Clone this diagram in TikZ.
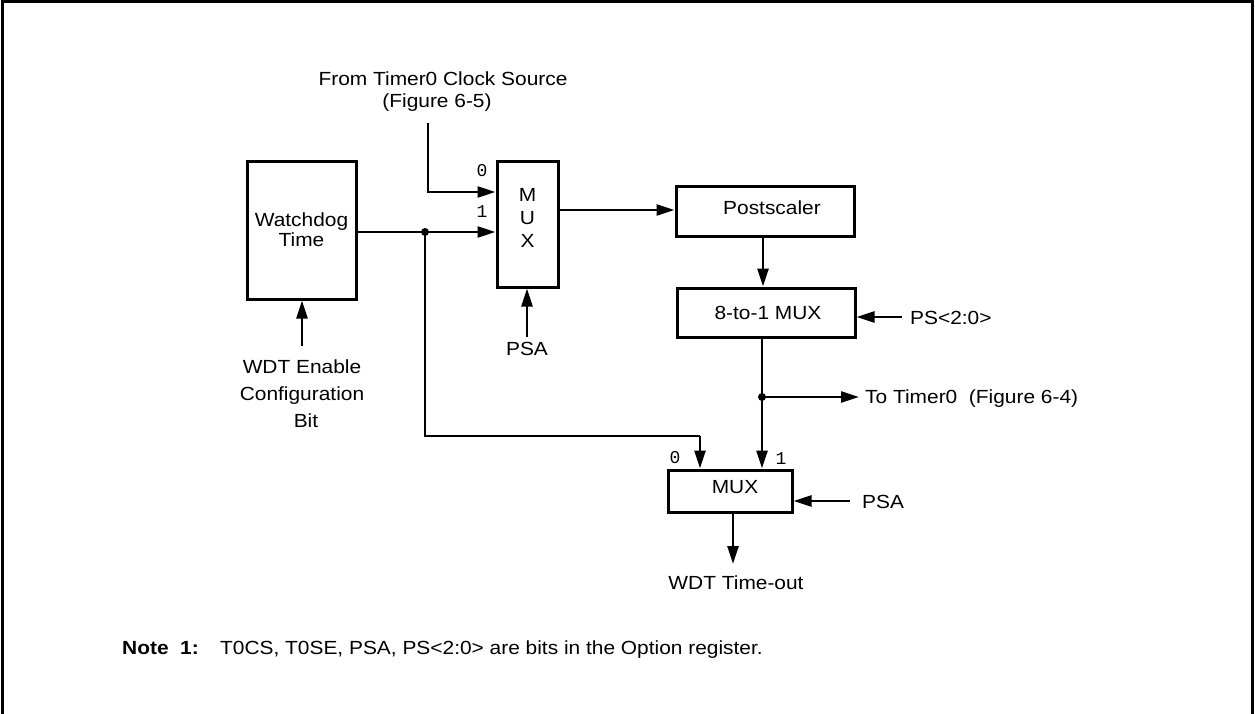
\documentclass[tikz,border=0pt]{standalone}
\usepackage{fontspec}
\setmainfont{Liberation Sans}[FakeStretch=1.1]
\newfontfamily\digitfont{Liberation Mono}
\usetikzlibrary{arrows.meta,calc}
\tikzset{
  blk/.style={draw, line width=3pt, inner sep=0pt},
  lbl/.style={inner sep=0pt, align=center, font=\fontsize{19}{20}\selectfont},
  txt/.style={inner sep=0pt, font=\fontsize{19}{26}\selectfont},
  dig/.style={inner sep=0pt, font=\digitfont\fontsize{18}{18}\selectfont},
  wire/.style={line width=2.7pt},
  arr/.style={wire, -{Triangle[length=18pt,width=11pt]}},
  dotj/.style={fill, circle, inner sep=0pt, minimum size=8pt}
}
\begin{document}
\begin{tikzpicture}[x=1pt,y=-1pt]
\useasboundingbox (0,0) rectangle (1255,714);
% frame
\draw[line width=3pt] (2,714) -- (2,2) -- (1252,2) -- (1252,714);

% blocks
\node[blk, minimum width=109pt, minimum height=137pt,
  label={[lbl, yshift=1pt]center:Watchdog\\Time}] (wdt) at (301.5,230.5) {};
\node[blk, minimum width=61pt, minimum height=125pt,
  label={[lbl, font=\fontsize{19}{23}\selectfont, yshift=6.5pt]center:M\\U\\X}] (mux1) at (527.5,224.5) {};
\node[blk, minimum width=178pt, minimum height=49pt,
  label={[lbl, xshift=7pt, yshift=3.5pt]center:Postscaler}] (post) at (765,211.5) {};
\node[blk, minimum width=178pt, minimum height=49pt,
  label={[lbl, xshift=2pt]center:8-to-1 MUX}] (mux8) at (766,312.5) {};
\node[blk, minimum width=124pt, minimum height=42pt,
  label={[lbl, xshift=5pt, yshift=3.5pt]center:MUX}] (bmux) at (730,491) {};

% text labels
\node[txt, anchor=base] (src) at (443,86) {From Timer0 Clock Source};
\node[txt, anchor=base] (srcfig) at (437,108) {(Figure 6-5)};
\node[txt, anchor=base] (psa1) at (527,355) {PSA};
\node[txt, anchor=base] (en1) at (302,373) {WDT Enable};
\node[txt, anchor=base] (en2) at (302,400) {Configuration};
\node[txt, anchor=base] (en3) at (306,427) {Bit};
\node[txt, anchor=base west] (ps) at (910,324) {PS<2:0>};
\node[txt, anchor=base west] (tot) at (865,403) {To Timer0\ \ (Figure 6-4)};
\node[txt, anchor=base west] (psa2) at (862,508) {PSA};
\node[txt, anchor=base] (tout) at (736,589) {WDT Time-out};
\node[txt, anchor=base west, font=\bfseries\fontsize{19}{22}\selectfont] (note) at (122,654) {Note\ \ 1:};
\node[txt, anchor=base west] (notetxt) at (220,654) {T0CS, T0SE, PSA, PS<2:0> are bits in the Option register.};

% input digits
\node[dig, anchor=base] (d0a) at (482,177) {0};
\node[dig, anchor=base] (d1a) at (482,218) {1};
\node[dig, anchor=base] (d0b) at (675,463) {0};
\node[dig, anchor=base] (d1b) at (781,464) {1};

% coordinates
\coordinate (clk) at (428,123);
\coordinate (j1) at (425,232);
\coordinate (c0) at (700,436);
\coordinate (j2) at (762,397);

% connectors
\draw[arr] (clk) |- (mux1.west |- 0,192);
\draw[arr] (wdt.east |- j1) -- (mux1.west |- j1);
\draw[wire] (j1) |- (c0);
\draw[arr] (c0) -- (bmux.north -| c0);
\node[dotj] (dot1) at (j1) {};
\draw[arr] ([yshift=5pt]psa1.north) -- (mux1.south -| psa1.north);
\draw[arr] ([yshift=13pt]en1.north) -- (wdt.south -| en1.north);
\draw[arr] (mux1.east |- 0,210) -- (post.west |- 0,210);
\draw[arr] (post.south -| 763,0) -- (mux8.north -| 763,0);
\draw[arr] (902,317) -- (mux8.east |- 0,317);
\draw[wire] (mux8.south -| j2) -- (j2);
\draw[arr] (j2) -- (bmux.north -| j2);
\node[dotj] (dot2) at (j2) {};
\draw[arr] (j2) -- ([xshift=-6pt]tot.west |- j2);
\draw[arr] (850,501) -- (bmux.east |- 0,501);
\draw[arr] (bmux.south -| 733,0) -- (733,564);
\end{tikzpicture}
\end{document}
